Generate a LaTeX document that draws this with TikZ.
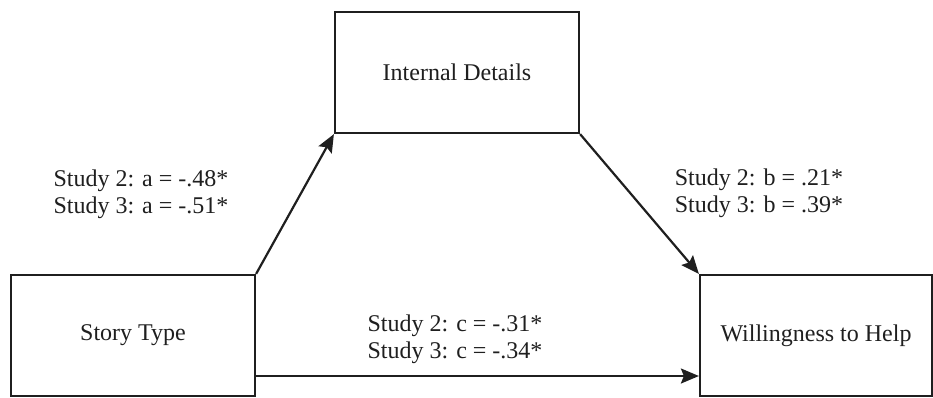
\documentclass[tikz,border=0pt]{standalone}
\usepackage{fontspec}
\setmainfont{Liberation Serif}
\usetikzlibrary{arrows.meta}
\begin{document}
\begin{tikzpicture}[x=1pt,y=-1pt,
  box/.style={draw=black!88, line width=2.2pt, minimum height=121pt, inner sep=0pt,
    font=\fontsize{24}{27}\selectfont, text=black!88},
  lbl/.style={align=center, inner sep=0pt, font=\fontsize{24}{27}\selectfont, text=black!88},
  arr/.style={draw=black!88, line width=2.2pt, -{Stealth[length=18pt,width=15pt,inset=3pt]}}]
\useasboundingbox (0,0) rectangle (933,397);
\node[box, minimum width=244pt] (story) at (133,335.5) {Story Type};
\node[box, minimum width=244pt] (internal) at (457,72.5) {Internal Details};
\node[box, minimum width=232pt] (willing) at (816,335.5) {Willingness to Help};
\coordinate (cy) at (0,376);
\draw[arr] (story.north east) -- (internal.south west);
\draw[arr] (internal.south east) -- (willing.north west);
\draw[arr] (story.east |- cy) -- (willing.west |- cy);
\node[lbl] (la) at (141,194) {Study 2: a = -.48*\\Study 3: a = -.51*};
\node[lbl] (lb) at (759,193) {Study 2: b = .21*\\Study 3: b = .39*};
\node[lbl] (lc) at (455,339) {Study 2: c = -.31*\\Study 3: c = -.34*};
\end{tikzpicture}
\end{document}
